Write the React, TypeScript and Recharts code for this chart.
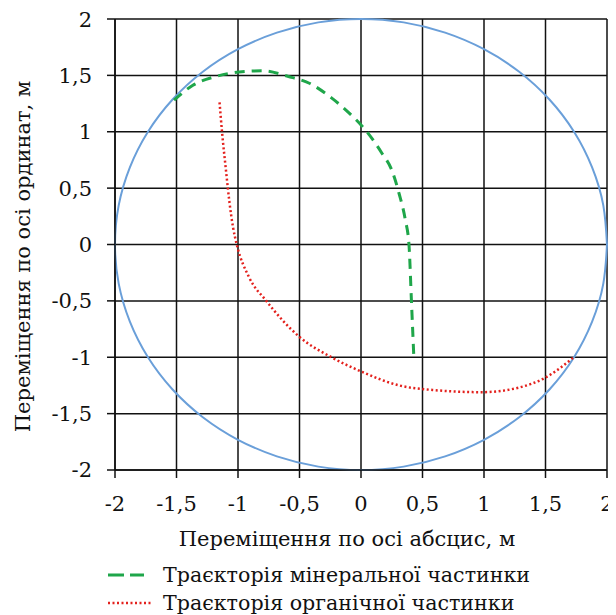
import React from 'react'
import { LineChart, Line, XAxis, YAxis, CartesianGrid, Legend } from 'recharts'

// circle of radius 2 (boundary), every 10 degrees
const circleX = [2, 1.97, 1.879, 1.732, 1.532, 1.286, 1, 0.684, 0.347, 0, -0.347, -0.684, -1, -1.286, -1.532, -1.732, -1.879, -1.97, -2, -1.97, -1.879, -1.732, -1.532, -1.286, -1, -0.684, -0.347, 0, 0.347, 0.684, 1, 1.286, 1.532, 1.732, 1.879, 1.97, 2]
const circleY = [0, 0.347, 0.684, 1, 1.286, 1.532, 1.732, 1.879, 1.97, 2, 1.97, 1.879, 1.732, 1.532, 1.286, 1, 0.684, 0.347, 0, -0.347, -0.684, -1, -1.286, -1.532, -1.732, -1.879, -1.97, -2, -1.97, -1.879, -1.732, -1.532, -1.286, -1, -0.684, -0.347, 0]

// мінеральна частинка
const mineralX = [-1.52, -1.37, -1.18, -0.99, -0.8, -0.59, -0.42, -0.24, -0.1, 0.04, 0.17, 0.25, 0.31, 0.36, 0.39, 0.41, 0.43]
const mineralY = [1.28, 1.41, 1.49, 1.53, 1.54, 1.49, 1.43, 1.3, 1.17, 1.01, 0.81, 0.66, 0.45, 0.22, 0, -0.5, -1.01]

// органічна частинка
const organicX = [-1.15, -1.13, -1.1, -1.07, -1.04, -1.01, -0.91, -0.77, -0.5, -0.24, 0.01, 0.31, 0.58, 0.98, 1.28, 1.5, 1.73]
const organicY = [1.26, 1.0, 0.68, 0.38, 0.15, 0, -0.29, -0.5, -0.82, -1.0, -1.13, -1.25, -1.29, -1.31, -1.27, -1.18, -1.0]

const ticks = [-2, -1.5, -1, -0.5, 0, 0.5, 1, 1.5, 2]

const toRows = (xs: number[], ys: number[]) => xs.map((x, i) => ({ x, y: ys[i] }))
const circle = toRows(circleX, circleY)
const mineral = toRows(mineralX, mineralY)
const organic = toRows(organicX, organicY)

const FONT = "'DejaVu Serif'"
const fmt = (v: number) => String(v).replace('.', ',')

const YLabel = ({ viewBox }: any) => {
  const cx = 15
  const cy = viewBox.y + viewBox.height / 2 + 12
  return (
    <text x={cx} y={cy} dy="0.35em" textAnchor="middle" transform={`rotate(-90 ${cx} ${cy})`}
      style={{ fontFamily: FONT }} fontSize={21} fill="#111">
      Переміщення по осі ординат, м
    </text>
  )
}

const LegendBox = () => (
  <div style={{ fontFamily: FONT, fontSize: 20.6, color: '#111', lineHeight: '28px', whiteSpace: 'nowrap' }}>
    <div style={{ display: 'flex', alignItems: 'center' }}>
      <svg width={55} height={10}>
        <line x1={0} y1={5} x2={36} y2={5} stroke="#1fa64a" strokeWidth={3} strokeDasharray="16 6" />
      </svg>
      <span>Траєкторія мінеральної частинки</span>
    </div>
    <div style={{ display: 'flex', alignItems: 'center' }}>
      <svg width={55} height={10}>
        <line x1={0} y1={5} x2={43} y2={5} stroke="#e3201c" strokeWidth={2.5} strokeDasharray="2 2.5" />
      </svg>
      <span>Траєкторія органічної частинки</span>
    </div>
  </div>
)

export default function App() {
  return (
    <div style={{ width: 608, height: 620, position: 'relative' }}>
      <style>{'body { overflow: hidden; }'}</style>
      <LineChart width={608} height={620} margin={{ top: 11, right: 9, bottom: 0, left: 0 }}>
        <CartesianGrid stroke="#111" strokeWidth={1.5} horizontalValues={ticks} verticalValues={ticks} />
        <XAxis
          type="number"
          dataKey="x"
          domain={[-2, 2]}
          ticks={ticks}
          tickFormatter={fmt}
          height={102}
          tickSize={8}
          tickMargin={18}
          axisLine={{ stroke: '#111', strokeWidth: 1.5 }}
          tickLine={{ stroke: '#111', strokeWidth: 1.5 }}
          tick={{ fill: '#111', style: { fontFamily: FONT }, fontSize: 21 }}
          label={{ value: 'Переміщення по осі абсцис, м', position: 'insideTop', offset: 61, dx: -14, fill: '#111', style: { fontFamily: FONT }, fontSize: 21 }}
        />
        <YAxis
          type="number"
          dataKey="y"
          domain={[-2, 2]}
          ticks={ticks}
          tickFormatter={fmt}
          width={107}
          tickSize={8}
          tickMargin={15}
          axisLine={{ stroke: '#111', strokeWidth: 1.5 }}
          tickLine={{ stroke: '#111', strokeWidth: 1.5 }}
          tick={{ fill: '#111', style: { fontFamily: FONT }, fontSize: 21 }}
          label={<YLabel />}
        />
        <Legend
          content={<LegendBox />}
          wrapperStyle={{ position: 'absolute', left: 100, top: 553, width: 500 }}
        />
        <Line data={circle} dataKey="y" type="natural" stroke="#6a9fd9" strokeWidth={2} dot={false} isAnimationActive={false} legendType="none" />
        <Line data={organic} dataKey="y" name="organic" type="monotone" stroke="#e3201c" strokeWidth={2.5} strokeDasharray="2 2.5" dot={false} isAnimationActive={false} />
        <Line data={mineral} dataKey="y" name="mineral" type="monotone" stroke="#1fa64a" strokeWidth={3} strokeDasharray="10 7" dot={false} isAnimationActive={false} />
      </LineChart>
    </div>
  )
}
